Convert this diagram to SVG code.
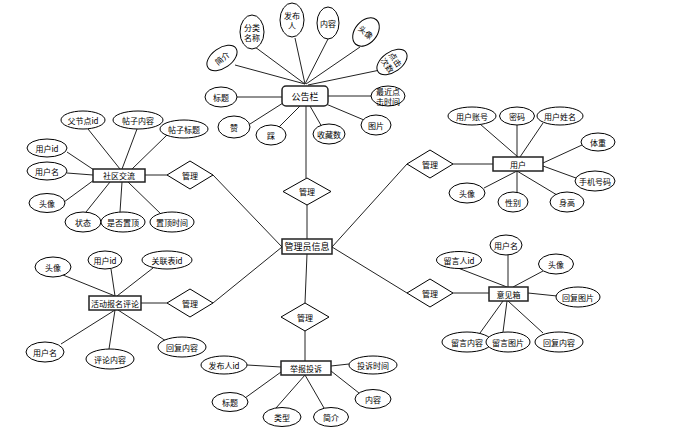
<svg xmlns="http://www.w3.org/2000/svg" width="675" height="445" viewBox="0 0 675 445">
<style>
.e{fill:#fff;stroke:#000;stroke-width:1}
.r{fill:#fff;stroke:#222;stroke-width:1.5}
.d{fill:#fff;stroke:#000;stroke-width:1}
.l{stroke:#222;stroke-width:1;fill:none}
text{font-family:"Noto Sans CJK SC","Noto Sans",sans-serif;font-size:8px;fill:#000;text-anchor:middle;dominant-baseline:central}
.b{font-size:9px}
</style>
<rect width="675" height="445" fill="#fff"/>
<g id="connectors">
<path class="l" d="M235,65L305,84M255,47L305,84M295,38L305,84M328,39L305,84M360,47L306,84M380,70L308,85"/>
<path class="l" d="M237,97H282M250,124L283,103M278,128L300,106M322,127L310,106M364,120L326,104M371,96H328"/>
<path class="l" d="M306,106V178"/>
<path class="l" d="M307,205V239"/>
<path class="l" d="M307,254L305,303"/>
<path class="l" d="M88,129L120,169M137,129L122,169M167,135L132,169M67,152L94,170M67,173L93,175M64,202L94,180M86,212L110,182M120,212L122,182M162,215L128,182M145,175H167"/>
<path class="l" d="M213,175L282,247"/>
<path class="l" d="M63,275L115,296M111,269L115,296M153,268L117,296M61,344L115,310M109,349L115,310M166,341L118,310M141,303H167"/>
<path class="l" d="M213,303L282,247"/>
<path class="l" d="M305,331V361M247,365L281,367M245,398L281,372M276,408L305,375M324,408L305,375M349,364L331,366M359,393L331,371"/>
<path class="l" d="M407,164L332,247M453,164H493M480,124L518,157M517,125V157M543,123L520,157M582,145L543,163M576,178L543,166M557,195L517,171M517,171V192M484,188L517,171"/>
<path class="l" d="M407,293L332,247M453,293H489M508,255V287M458,268L507,287M543,271L513,287M557,296L528,293M480,333L503,301M503,332L507,301M543,333L508,301"/>
</g>
<g id="n_gonggao">
<rect class="r" x="282" y="86" width="46" height="20" rx="4"/>
<text class="b" x="305" y="96">公告栏</text>
</g>
<g id="a_jianjie"><ellipse class="e" cx="222" cy="58" rx="17" ry="10" transform="rotate(-35 222 58)"/><text x="222" y="58" transform="rotate(-40 222 58)">简介</text></g>
<g id="a_fenlei"><ellipse class="e" cx="252" cy="32" rx="12" ry="17"/><text x="252" y="27">分类</text><text x="252" y="37">名称</text></g>
<g id="a_fabuof"><ellipse class="e" cx="292" cy="20" rx="12" ry="17"/><text x="292" y="15">发布</text><text x="292" y="25">人</text></g>
<g id="a_neirong1"><ellipse class="e" cx="328" cy="23" rx="11" ry="16"/><text x="328" y="23">内容</text></g>
<g id="a_touxiang1"><ellipse class="e" cx="366" cy="32" rx="11" ry="16" transform="rotate(40 366 32)"/><text x="366" y="32" transform="rotate(40 366 32)">头像</text></g>
<g id="a_dianji"><ellipse class="e" cx="392" cy="62" rx="10" ry="17" transform="rotate(55 392 62)"/><text x="392" y="62" transform="rotate(55 392 62)"><tspan x="392" dy="-5">点击</tspan><tspan x="392" dy="10">次数</tspan></text></g>
<g id="a_zuijin"><ellipse class="e" cx="388" cy="96" rx="17" ry="10"/><text x="388" y="91">最近点</text><text x="388" y="101">击时间</text></g>
<g id="a_tupian1"><ellipse class="e" cx="376" cy="125" rx="15" ry="10"/><text x="376" y="125">图片</text></g>
<g id="a_shoucang"><ellipse class="e" cx="329" cy="134" rx="16" ry="10"/><text x="329" y="134">收藏数</text></g>
<g id="a_cai"><ellipse class="e" cx="271" cy="135" rx="15" ry="10"/><text x="271" y="135">踩</text></g>
<g id="a_zan"><ellipse class="e" cx="234" cy="127" rx="16" ry="11"/><text x="234" y="127">赞</text></g>
<g id="a_biaoti1"><ellipse class="e" cx="221" cy="97" rx="16" ry="10"/><text x="221" y="97">标题</text></g>

<g id="d_top"><polygon class="d" points="307,178 331,191.5 307,205 283,191.5"/><text x="307" y="191.5">管理</text></g>
<g id="n_admin"><rect class="r" x="282" y="239" width="50" height="15"/><text class="b" x="307" y="246.5">管理员信息</text></g>
<g id="d_bottom"><polygon class="d" points="305,303 329,317 305,331 281,317"/><text x="305" y="317">管理</text></g>

<g id="d_left1"><polygon class="d" points="190,161 213,175 190,189 167,175"/><text x="190" y="175">管理</text></g>
<g id="n_shequ"><rect class="r" x="93" y="169" width="52" height="13"/><text x="119" y="175.5">社区交流</text></g>
<g id="a_fujiedian"><ellipse class="e" cx="83" cy="120" rx="22" ry="9"/><text x="83" y="120">父节点id</text></g>
<g id="a_tieneirong"><ellipse class="e" cx="138" cy="120" rx="25" ry="9"/><text x="138" y="120">帖子内容</text></g>
<g id="a_tiebiaoti"><ellipse class="e" cx="184" cy="129" rx="24" ry="9"/><text x="184" y="129">帖子标题</text></g>
<g id="a_yhid1"><ellipse class="e" cx="47" cy="148" rx="20" ry="9"/><text x="47" y="148">用户id</text></g>
<g id="a_yhm1"><ellipse class="e" cx="47" cy="171" rx="20" ry="9"/><text x="47" y="171">用户名</text></g>
<g id="a_tx2"><ellipse class="e" cx="47" cy="203" rx="18" ry="9.5"/><text x="47" y="203">头像</text></g>
<g id="a_zhuangtai"><ellipse class="e" cx="83" cy="222" rx="18" ry="10"/><text x="83" y="222">状态</text></g>
<g id="a_shifou"><ellipse class="e" cx="123" cy="222" rx="22" ry="10"/><text x="123" y="222">是否置顶</text></g>
<g id="a_zhiding"><ellipse class="e" cx="172" cy="222" rx="22" ry="10"/><text x="172" y="222">置顶时间</text></g>

<g id="d_left2"><polygon class="d" points="190,289 213,303 190,317 167,303"/><text x="190" y="303">管理</text></g>
<g id="n_huodong"><rect class="r" x="89" y="296" width="52" height="14"/><text x="115" y="303">活动报名评论</text></g>
<g id="a_tx3"><ellipse class="e" cx="53" cy="267" rx="18" ry="10"/><text x="53" y="267">头像</text></g>
<g id="a_yhid2"><ellipse class="e" cx="105" cy="260" rx="17" ry="9"/><text x="105" y="260">用户id</text></g>
<g id="a_guanlian"><ellipse class="e" cx="167" cy="260" rx="25" ry="9"/><text x="167" y="260">关联表id</text></g>
<g id="a_yhm2"><ellipse class="e" cx="45" cy="352" rx="19" ry="10"/><text x="45" y="352">用户名</text></g>
<g id="a_pinglun"><ellipse class="e" cx="110" cy="359" rx="24" ry="10"/><text x="110" y="359">评论内容</text></g>
<g id="a_huifu1"><ellipse class="e" cx="182" cy="347" rx="24" ry="10"/><text x="182" y="347">回复内容</text></g>

<g id="n_jubao"><rect class="r" x="281" y="361" width="50" height="14"/><text x="306" y="368">举报投诉</text></g>
<g id="a_fabuid"><ellipse class="e" cx="224" cy="365" rx="23" ry="9"/><text x="224" y="365">发布人id</text></g>
<g id="a_biaoti2"><ellipse class="e" cx="230" cy="402" rx="18" ry="9.5"/><text x="230" y="402">标题</text></g>
<g id="a_leixing"><ellipse class="e" cx="282" cy="417" rx="19" ry="9.5"/><text x="282" y="417">类型</text></g>
<g id="a_jianjie2"><ellipse class="e" cx="331" cy="417" rx="17.5" ry="9.5"/><text x="331" y="417">简介</text></g>
<g id="a_tousu"><ellipse class="e" cx="373" cy="365" rx="24" ry="9"/><text x="373" y="365">投诉时间</text></g>
<g id="a_neirong2"><ellipse class="e" cx="373" cy="399" rx="18" ry="9.5"/><text x="373" y="399">内容</text></g>

<g id="d_right1"><polygon class="d" points="430,150 453,164 430,178 407,164"/><text x="430" y="164">管理</text></g>
<g id="n_yonghu"><rect class="r" x="493" y="157" width="50" height="14"/><text x="518" y="164">用户</text></g>
<g id="a_zhanghao"><ellipse class="e" cx="472" cy="116" rx="24" ry="9"/><text x="472" y="116">用户账号</text></g>
<g id="a_mima"><ellipse class="e" cx="517" cy="116" rx="17.5" ry="9"/><text x="517" y="116">密码</text></g>
<g id="a_xingming"><ellipse class="e" cx="560" cy="116" rx="23" ry="9"/><text x="560" y="116">用户姓名</text></g>
<g id="a_tizhong"><ellipse class="e" cx="598" cy="142" rx="17" ry="9"/><text x="598" y="142">体重</text></g>
<g id="a_shouji"><ellipse class="e" cx="595" cy="181" rx="20" ry="10"/><text x="595" y="181">手机号码</text></g>
<g id="a_shengao"><ellipse class="e" cx="567" cy="202" rx="17" ry="10"/><text x="567" y="202">身高</text></g>
<g id="a_xingbie"><ellipse class="e" cx="513" cy="202" rx="15" ry="10"/><text x="513" y="202">性别</text></g>
<g id="a_tx4"><ellipse class="e" cx="467" cy="193" rx="18" ry="10"/><text x="467" y="193">头像</text></g>

<g id="d_right2"><polygon class="d" points="430,279 453,293 430,307 407,293"/><text x="430" y="293">管理</text></g>
<g id="n_yijian"><rect class="r" x="489" y="287" width="39" height="14"/><text x="508.5" y="294">意见箱</text></g>
<g id="a_yhm3"><ellipse class="e" cx="506" cy="245" rx="16" ry="10"/><text x="506" y="245">用户名</text></g>
<g id="a_liuyanren"><ellipse class="e" cx="459" cy="260" rx="22.5" ry="8.5"/><text x="459" y="260">留言人id</text></g>
<g id="a_tx5"><ellipse class="e" cx="556" cy="264" rx="17.5" ry="10"/><text x="556" y="264">头像</text></g>
<g id="a_huifutp"><ellipse class="e" cx="578" cy="297" rx="22" ry="10"/><text x="578" y="297">回复图片</text></g>
<g id="a_liuyannr"><ellipse class="e" cx="467" cy="342" rx="25" ry="10"/><text x="467" y="342">留言内容</text></g>
<g id="a_liuyantp"><ellipse class="e" cx="508" cy="342" rx="22" ry="10"/><text x="508" y="342">留言图片</text></g>
<g id="a_huifunr"><ellipse class="e" cx="559" cy="342" rx="24" ry="10"/><text x="559" y="342">回复内容</text></g>
</svg>
